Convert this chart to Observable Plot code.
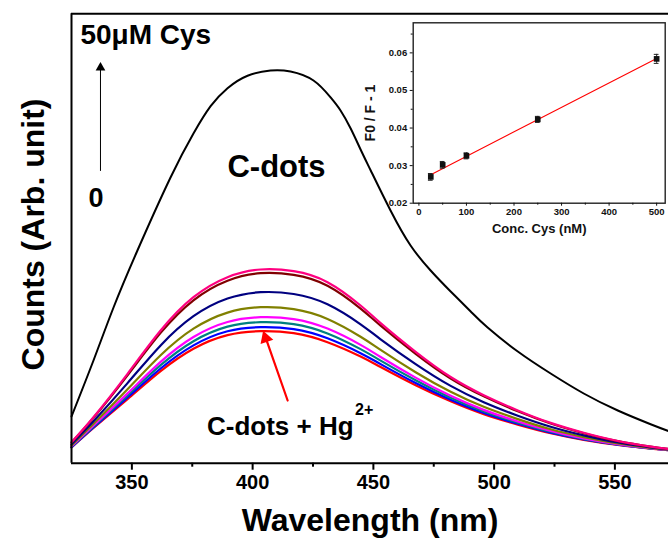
<!DOCTYPE html>
<html><head><meta charset="utf-8">
<script src="https://cdn.jsdelivr.net/npm/d3@7"></script>
<script src="https://cdn.jsdelivr.net/npm/@observablehq/plot@0.6"></script>
<style>
body{margin:0;background:#fff;}
#wrap{position:relative;width:668px;height:544px;overflow:hidden;}
#wrap svg{position:absolute;overflow:visible;}
</style></head><body><div id="wrap"></div>
<script>
// ---- main spectra (wavelength in nm, counts in arbitrary units) ----
const wavelengths = [325, 334.1, 348.2, 361.9, 375.5, 389.6, 403.3, 417, 431, 444.7, 453, 467.5, 482, 495.7, 509.8, 523.4, 537.1, 551.2, 564.8, 572.3];
const hg0   = [15.7, 35.2, 64.1, 92.1, 114.5, 128.1, 132, 130, 121, 106.7, 96.2, 78, 61.9, 49, 38.5, 29.9, 23.3, 18.2, 14.6, 13];   // C-dots + Hg2+
const cysA  = [16, 35.9, 65.7, 94.7, 117.8, 131.9, 136, 134, 124.9, 110, 99.1, 80.2, 63.5, 50.2, 39.4, 30.6, 23.8, 18.5, 14.7, 13.1];
const cysB  = [16.5, 36.8, 67.8, 98, 122, 136.6, 141, 139.1, 129.8, 114.1, 102.6, 82.9, 65.4, 51.8, 40.6, 31.4, 24.3, 18.8, 14.9, 13.2];
const cysC  = [16.9, 37.7, 69.8, 101.3, 126.2, 141.2, 146, 144.1, 134.6, 118.3, 106.2, 85.6, 67.4, 53.3, 41.7, 32.3, 24.9, 19.1, 15.1, 13.3];
const cysD  = [17.8, 39.4, 73.9, 107.9, 134.5, 150.6, 156, 154.1, 144.3, 126.5, 113.3, 91, 71.4, 56.4, 44.1, 33.9, 26.1, 19.8, 15.4, 13.5];
const cysE  = [19, 42, 80.1, 117.8, 147, 164.7, 171, 169.2, 158.9, 138.9, 123.9, 99.1, 77.3, 61, 47.5, 36.5, 27.8, 20.7, 15.9, 13.8];
const cysF  = [20.7, 45.4, 87.9, 130.3, 162.9, 182.5, 190, 188.3, 177.4, 154.6, 137.5, 109.4, 84.7, 66.9, 51.9, 39.7, 30, 22, 16.5, 14.2];
const cys50 = [21, 46, 89.4, 132.7, 166, 186, 193.7, 192, 181, 157.7, 140.1, 111.4, 86.2, 68, 52.8, 40.3, 30.4, 22.2, 16.6, 14.3];
const seriesList = [hg0, cysA, cysB, cysC, cysD, cysE, cysF, cys50];

const cdotsWavelengths = [325, 334.1, 342.4, 352.3, 366, 375.5, 382.6, 389.6, 397.9, 407.4, 415.7, 425.2, 432.3, 436.4, 440.6, 444.7, 448.9, 457.1, 465.4, 473.7, 482, 490.3, 497.3, 509.8, 523.4, 537.1, 551.2, 564.8, 572.3];
const cdotsCounts      = [46.7, 102.7, 155.7, 212.7, 285.7, 329.7, 357, 375, 387.5, 392.7, 391.7, 382.7, 365.7, 352.7, 334.7, 313.7, 292.7, 252.7, 217.7, 192.7, 171.7, 151.7, 135.7, 111.7, 89.7, 69.7, 52.7, 39, 32];

const xTicks = [350, 400, 450, 500, 550];
const xMinorTicks = [375, 425, 475, 525];

// ---- inset: calibration ----
const concCys = [25, 50, 100, 250, 500];
const ratio   = [0.0270, 0.0302, 0.0326, 0.0423, 0.0584];
const ratioErr = [0.0009, 0.0009, 0.0008, 0.0008, 0.0012];
const fitX = [25, 500];
const fitY = [0.0276, 0.0585];
const insetXTicks = [0, 100, 200, 300, 400, 500];
const insetXMinor = [50, 150, 250, 350, 450];
const insetYTicks = [0.02, 0.03, 0.04, 0.05, 0.06];
const insetYMinor = [0.025, 0.035, 0.045, 0.055, 0.065];

// styles (kept apart from data)
const seriesColors = ["#FF0000", "#0000FF", "#008080", "#FF00FF", "#808000", "#000080", "#800000", "#FF0080"];
const FONT = "'Liberation Sans', Arial, Helvetica, sans-serif";

const rows = seriesList.map(s => wavelengths.map((w, i) => ({w, c: s[i]})));
const cdots = cdotsWavelengths.map((w, i) => ({w, c: cdotsCounts[i]}));

const main = Plot.plot({
  width: 668, height: 544,
  marginLeft: 71, marginRight: 0, marginTop: 13.3, marginBottom: 81.3,
  style: {fontFamily: FONT, fontWeight: "bold", color: "#000", background: "transparent"},
  x: {domain: [325, 572.2], label: null},
  y: {domain: [0, 449.4], label: null, axis: null},
  marks: [
    ...rows.map((r, k) => Plot.line(r, {x: "w", y: "c", stroke: seriesColors[k], strokeWidth: 2.2, curve: "natural"})),
    Plot.line(cdots, {x: "w", y: "c", stroke: "#000", strokeWidth: 2, curve: "natural"}),
    Plot.ruleX([325], {stroke: "#000", strokeWidth: 2}),
    Plot.ruleY([449.4], {stroke: "#000", strokeWidth: 2}),
    Plot.ruleY([0], {stroke: "#000", strokeWidth: 2}),
    Plot.axisX({ticks: xTicks, tickSize: 7, tickPadding: 5, fontSize: 20, strokeWidth: 2, tickFormat: d => String(d), label: null}),
    Plot.axisX({ticks: xMinorTicks, tickSize: 4, strokeWidth: 2, tickFormat: () => "", label: null}),
    Plot.text(["Wavelength (nm)"], {frameAnchor: "bottom", dy: 58, fontSize: 32, lineAnchor: "middle", textAnchor: "middle"}),
    Plot.text(["Counts (Arb. unit)"], {frameAnchor: "left", rotate: -90, dx: -38, dy: -4, fontSize: 32, lineAnchor: "middle", textAnchor: "middle"}),
    Plot.text([{x: 328.7, y: 428, t: "50\u03bcM Cys"}], {x: "x", y: "y", text: "t", textAnchor: "start", fontSize: 28, lineAnchor: "middle"}),
    Plot.text([{x: 335.2, y: 265, t: "0"}], {x: "x", y: "y", text: "t", fontSize: 27, lineAnchor: "middle"}),
    Plot.arrow([{x1: 337, y1: 292.7, x2: 337, y2: 396}], {x1: "x1", y1: "y1", x2: "x2", y2: "y2", stroke: "#000", strokeWidth: 1, headLength: 0}),
    Plot.dot([{x: 337, y: 395.5}], {x: "x", y: "y", symbol: "triangle", r: 3.6, fill: "#000", stroke: "none"}),
    Plot.text([{x: 409.9, y: 296, t: "C-dots"}], {x: "x", y: "y", text: "t", fontSize: 31, lineAnchor: "middle"}),
    Plot.arrow([{x1: 414.5, y1: 62.7, x2: 405.6, y2: 124}], {x1: "x1", y1: "y1", x2: "x2", y2: "y2", stroke: "#FF0000", strokeWidth: 2.2, headLength: 0}),
    Plot.dot([{x: 405.4, y: 125}], {x: "x", y: "y", symbol: "triangle", r: 5, rotate: -19, fill: "#FF0000", stroke: "none"}),
    Plot.text([{x: 441.8, y: 36.5, t: "C-dots + Hg"}], {x: "x", y: "y", text: "t", textAnchor: "end", fontSize: 26, lineAnchor: "middle"}),
    Plot.text([{x: 442.4, y: 53.5, t: "2+"}], {x: "x", y: "y", text: "t", textAnchor: "start", fontSize: 16, lineAnchor: "middle"})
  ]
});
main.style.left = "0px"; main.style.top = "0px";

const insetRows = concCys.map((c, i) => ({c, v: ratio[i], e: ratioErr[i]}));
const fitRows = fitX.map((x, i) => ({x, y: fitY[i]}));

const inset = Plot.plot({
  width: 328, height: 240,
  marginLeft: 72.7, marginRight: 3.3, marginTop: 22.3, marginBottom: 37.3,
  style: {fontFamily: FONT, fontWeight: "bold", color: "#111", background: "transparent"},
  x: {domain: [-12, 518], label: null, axis: null},
  y: {domain: [0.02, 0.068], label: null, axis: null},
  marks: [
    Plot.frame({fill: "#fff", stroke: "none"}),
    Plot.line(fitRows, {x: "x", y: "y", stroke: "#FF0000", strokeWidth: 1.1}),
    Plot.ruleX(insetRows, {x: "c", y1: d => d.v - d.e, y2: d => d.v + d.e, stroke: "#222", strokeWidth: 1}),
    Plot.ruleY(insetRows, {y: d => d.v + d.e, x1: d => d.c - 5, x2: d => d.c + 5, stroke: "#222", strokeWidth: 1}),
    Plot.ruleY(insetRows, {y: d => d.v - d.e, x1: d => d.c - 5, x2: d => d.c + 5, stroke: "#222", strokeWidth: 1}),
    Plot.dot(insetRows, {x: "c", y: "v", symbol: "square", r: 3.2, fill: "#111", stroke: "none"}),
    Plot.frame({stroke: "#222", strokeWidth: 1.4}),
    Plot.axisX({ticks: insetXTicks, tickSize: 3, tickPadding: 2, fontSize: 9.5, tickFormat: d => String(d), label: null}),
    Plot.axisX({ticks: insetXMinor, tickSize: 2, tickFormat: () => "", label: null}),
    Plot.axisY({ticks: insetYTicks, tickSize: 3, tickPadding: 3, fontSize: 9.5, tickFormat: d3.format(".2f"), label: null}),
    Plot.axisY({ticks: insetYMinor, tickSize: 2, tickFormat: () => "", label: null}),
    Plot.text(["Conc. Cys (nM)"], {frameAnchor: "bottom", dy: 26, fontSize: 13, lineAnchor: "middle", textAnchor: "middle"}),
    Plot.text(["F0 / F - 1"], {frameAnchor: "left", rotate: -90, dx: -43, fontSize: 14, lineAnchor: "middle", textAnchor: "middle"})
  ]
});
inset.style.left = "340px"; inset.style.top = "0px";

const wrap = document.getElementById("wrap");
wrap.appendChild(main);
wrap.appendChild(inset);
</script>
</body></html>
